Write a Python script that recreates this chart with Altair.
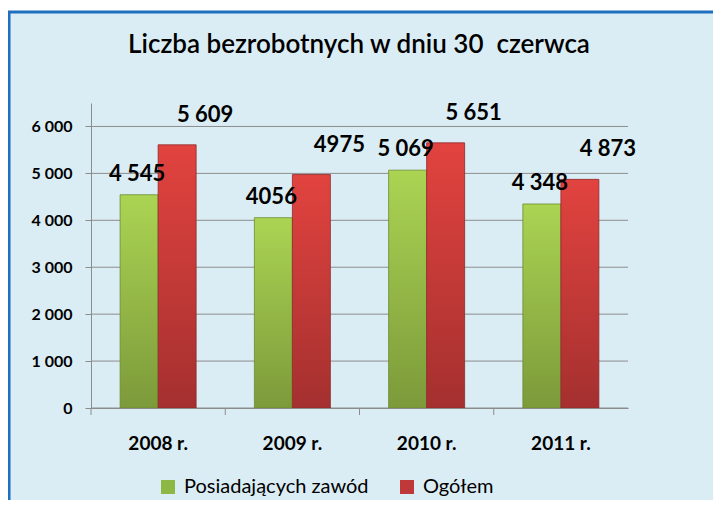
import altair as alt
import pandas as pd

years = ["2008 r.", "2009 r.", "2010 r.", "2011 r."]
series = ["Posiadających zawód", "Ogółem"]
zawod = [4545, 4056, 5069, 4348]
ogolem = [5609, 4975, 5651, 4873]
zawod_labels = ["4 545", "4056", "5 069", "4 348"]
ogolem_labels = ["5 609", "4975", "5 651", "4 873"]
y_ticks = [0, 1000, 2000, 3000, 4000, 5000, 6000]
title_text = "Liczba bezrobotnych w dniu 30  czerwca"

rows = []
for i, yr in enumerate(years):
    rows.append({"year": yr, "series": series[0], "value": zawod[i], "label": zawod_labels[i]})
    rows.append({"year": yr, "series": series[1], "value": ogolem[i], "label": ogolem_labels[i]})
df = pd.DataFrame(rows)
grid_df = pd.DataFrame({"value": y_ticks})

W, H = 537, 305
FONT = "Lato"
GREEN = "#8db843"
RED = "#c0393a"

x_axis = alt.Axis(title=None, labelAngle=0, labelFont=FONT, labelFontSize=19,
                  labelFontWeight="bold", labelColor="black", ticks=False,
                  domainColor="#8c8c8c", domainWidth=1, labelPadding=26,
                  bandPosition=0.5, zindex=1)
y_axis = alt.Axis(title=None, values=y_ticks, grid=False, labelFont=FONT, labelFontSize=16,
                  labelFontWeight="bold", labelColor="black",
                  labelExpr="replace(format(datum.value, ','), ',', ' ')",
                  tickColor="#8c8c8c", tickSize=6, domainColor="#8c8c8c",
                  labelPadding=13, zindex=1)

x_enc = alt.X("year:N", sort=years, scale=alt.Scale(paddingInner=0, paddingOuter=0), axis=x_axis)
xoff = alt.XOffset("series:N", sort=series, scale=alt.Scale(paddingInner=0, paddingOuter=0.766))
y_enc = alt.Y("value:Q", scale=alt.Scale(domain=[0, 6500], nice=False, zero=True), axis=y_axis)

frame = alt.Chart(alt.Data(values=[{"a": 1}])).mark_rect(
    fill="#dbedf4", stroke="#1f6fbf", strokeWidth=3
).encode(x=alt.value(-82), x2=alt.value(W + 200), y=alt.value(-91), y2=alt.value(H + 200))

grid = alt.Chart(grid_df).mark_rule(color="#8c8c8c", strokeWidth=1).encode(
    y=y_enc, x=alt.value(0), x2=alt.value(W))

xticks = alt.Chart(pd.DataFrame({"year": years})).mark_rule(color="#8c8c8c").encode(
    x=alt.X("year:N", sort=years, bandPosition=0, axis=x_axis), y=alt.value(H), y2=alt.value(H + 7))

def grad(top, bottom):
    return alt.Gradient(gradient="linear", x1=0, x2=0, y1=0, y2=1,
                        stops=[alt.GradientStop(color=top, offset=0),
                               alt.GradientStop(color=bottom, offset=1)])

bars_g = alt.Chart(df).transform_filter(alt.datum.series == series[0]).mark_bar(
    color=grad("#abd453", "#7c9a3a"), stroke="#6d8a30", strokeWidth=0.8
).encode(x=x_enc, xOffset=xoff, y=y_enc)

bars_r = alt.Chart(df).transform_filter(alt.datum.series == series[1]).mark_bar(
    color=grad("#e2433f", "#a4302f"), stroke="#8e2a29", strokeWidth=0.8
).encode(x=x_enc, xOffset=xoff, y=y_enc)

lab_g = alt.Chart(df).transform_filter(alt.datum.series == series[0]).mark_text(
    font=FONT, fontSize=22, fontWeight="bold", color="black", baseline="middle", dy=-21, dx=-2
).encode(x=x_enc, xOffset=xoff, y=y_enc, text="label:N")

lab_r = alt.Chart(df).transform_filter(alt.datum.series == series[1]).mark_text(
    font=FONT, fontSize=22, fontWeight="bold", color="black", baseline="middle", dy=-30, dx=28
).encode(x=x_enc, xOffset=xoff, y=y_enc, text="label:N")

legend_layer = alt.Chart(df).mark_square(size=0, opacity=0).encode(
    x=x_enc, y=y_enc,
    color=alt.Color("series:N", sort=series,
                    scale=alt.Scale(domain=series, range=[GREEN, RED]),
                    legend=alt.Legend(title=None, orient="none", legendX=67, legendY=374,
                                      direction="horizontal", symbolType="square",
                                      symbolSize=196, symbolOpacity=1, symbolStrokeWidth=0,
                                      labelFont=FONT, labelFontSize=20, labelColor="black",
                                      labelOffset=6, columnPadding=28, labelLimit=400)))

title = alt.Chart(alt.Data(values=[{"t": title_text.replace("  ", " \u00a0")}])).mark_text(
    font=FONT, fontSize=26, fontWeight=600, color="black", align="center", baseline="middle"
).encode(x=alt.value(268), y=alt.value(-58), text="t:N")

chart = alt.layer(frame, grid, xticks, bars_g, bars_r, lab_g, lab_r, legend_layer, title).properties(
    width=W, height=H,
    autosize=alt.AutoSizeParams(type="none"),
    padding={"left": 83, "top": 95, "right": 85, "bottom": 92},
    background="white",
).configure_view(stroke=None)

chart.save("out.html", embed_options={"renderer": "svg", "actions": False})
